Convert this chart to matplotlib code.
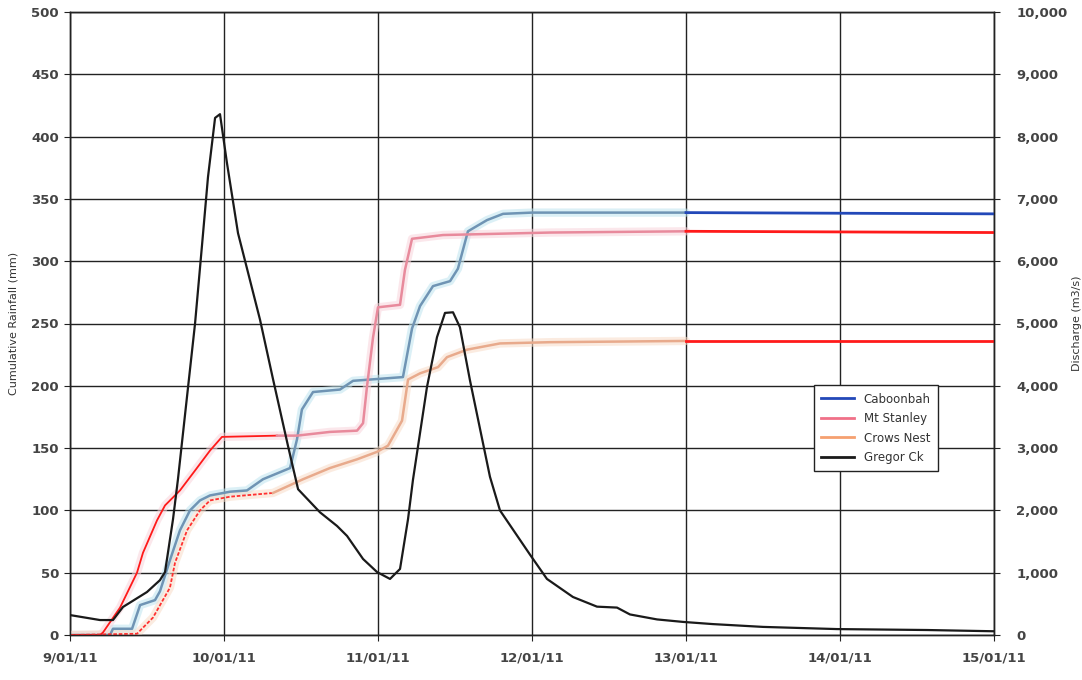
import matplotlib
matplotlib.use("Agg")
import matplotlib.pyplot as plt
from matplotlib.lines import Line2D
import numpy as np

# ---------------- data (days after 9/01/11) ----------------
x_ticklabels = ["9/01/11", "10/01/11", "11/01/11", "12/01/11", "13/01/11", "14/01/11", "15/01/11"]
rain_ticks = [0, 50, 100, 150, 200, 250, 300, 350, 400, 450, 500]
flow_ticks = [0, 1000, 2000, 3000, 4000, 5000, 6000, 7000, 8000, 9000, 10000]

caboonbah_days = [0.0, 0.260, 0.279, 0.403, 0.455, 0.552, 0.584, 0.649, 0.714, 0.779, 0.844,
                  0.909, 1.039, 1.149, 1.253, 1.429, 1.474, 1.506, 1.578, 1.753, 1.838, 2.162,
                  2.221, 2.273, 2.357, 2.468, 2.519, 2.584, 2.708, 2.812, 3.0, 4.0, 6.0]
caboonbah_mm = [0, 0, 5, 5, 24, 28, 35, 60, 84, 100, 108,
                112, 115, 116, 125, 134, 157, 181, 195, 197, 204, 207,
                246, 264, 280, 284, 294, 324, 333, 338, 339, 339, 338]

mtstanley_days = [0.0, 0.195, 0.214, 0.325, 0.435, 0.474, 0.565, 0.617, 0.714, 0.812, 0.909,
                  0.987, 1.344, 1.474, 1.688, 1.864, 1.903, 1.929, 1.968, 2.0, 2.143, 2.175,
                  2.221, 2.422, 3.117, 4.0, 6.0]
mtstanley_mm = [0, 0, 2, 22, 50, 66, 92, 104, 116, 132, 148,
                159, 160, 160, 163, 164, 170, 200, 239, 263, 265, 293,
                318, 321, 323, 324, 323]

crowsnest_days = [0.0, 0.435, 0.539, 0.649, 0.682, 0.760, 0.844, 0.909, 1.039, 1.318, 1.513,
                  1.688, 1.864, 1.994, 2.065, 2.156, 2.195, 2.273, 2.390, 2.448, 2.578, 2.792,
                  3.117, 4.0, 6.0]
crowsnest_mm = [0, 1, 14, 38, 58, 84, 100, 108, 111, 114, 125,
                134, 141, 147, 152, 172, 205, 210, 215, 223, 229, 234,
                235, 236, 236]

gregor_days = [0.000, 0.195, 0.279, 0.344, 0.500, 0.584, 0.617, 0.669, 0.701, 0.740, 0.812,
               0.857, 0.896, 0.942, 0.974, 1.019, 1.091, 1.234, 1.318, 1.416, 1.481, 1.623,
               1.734, 1.799, 1.903, 1.994, 2.078, 2.143, 2.195, 2.227, 2.318, 2.383, 2.435,
               2.487, 2.532, 2.597, 2.727, 2.792, 2.987, 3.097, 3.266, 3.422, 3.552, 3.636,
               3.812, 3.981, 4.175, 4.500, 4.981, 5.565, 6.000]
gregor_flow = [320, 240, 240, 450, 690, 880, 1010, 1860, 2500, 3380, 5000,
               6250, 7350, 8300, 8360, 7580, 6450, 5060, 4110, 3030, 2340, 1970,
               1750, 1590, 1220, 1010, 900, 1060, 1860, 2490, 3980, 4780, 5170,
               5180, 4940, 4090, 2540, 2000, 1290, 900, 610, 455, 440, 330,
               250, 210, 175, 130, 95, 80, 60]

# ---------------- figure ----------------
fig = plt.figure(figsize=(10.82, 6.8), dpi=100)
ax = fig.add_axes([70 / 1082, 45 / 680, 924 / 1082, 623 / 680])
ax2 = ax.twinx()

ax.set_xlim(0, 6)
ax.set_ylim(0, 500)
ax2.set_ylim(0, 10000)

ax.set_xticks(range(7))
ax.set_xticklabels(x_ticklabels)
ax.set_yticks(rain_ticks)
ax2.set_yticks(flow_ticks)
ax2.set_yticklabels([f"{v:,}" for v in flow_ticks])

ax.grid(True, color="#222222", linewidth=1.0)
ax.set_axisbelow(True)
for a in (ax, ax2):
    for s in a.spines.values():
        s.set_color("#222222")
        s.set_linewidth(1.0)

for lab in ax.get_xticklabels() + ax.get_yticklabels() + ax2.get_yticklabels():
    lab.set_fontsize(9.5)
    lab.set_fontweight("bold")
    lab.set_color("#444444")
ax.tick_params(axis="x", length=4, pad=8, color="#222222")
ax.tick_params(axis="y", length=4, pad=4, color="#222222")
ax2.tick_params(axis="y", length=4, pad=12, color="#222222")

ax.set_ylabel("Cumulative Rainfall (mm)", fontsize=8, color="#333333")
ax2.set_ylabel("Discharge (m3/s)", fontsize=8, color="#333333")
ax.yaxis.set_label_coords(-0.056, 0.5)
ax2.yaxis.set_label_coords(1.084, 0.5)


def seg(days, vals, lo, hi):
    d = np.asarray(days, float)
    v = np.asarray(vals, float)
    keep = (d > lo) & (d < hi)
    xs = np.concatenate([[lo], d[keep], [hi]])
    ys = np.interp(xs, d, v)
    return xs, ys


def draw_series(days, vals, early_col, mid_col, halo_col, late_col, early_end, early_ls="-"):
    # light halo (scan bleed) up to 13/01
    xs, ys = seg(days, vals, 0, 4.0)
    ax.plot(xs, ys, color=halo_col, lw=6, alpha=0.55, solid_capstyle="round", zorder=3)
    if early_end > 0:
        xs, ys = seg(days, vals, 0, early_end)
        ax.plot(xs, ys, color=early_col, lw=1.3, ls=early_ls, zorder=4)
    xs, ys = seg(days, vals, early_end, 4.0)
    ax.plot(xs, ys, color=mid_col, lw=1.8, zorder=4)
    xs, ys = seg(days, vals, 4.0, 6.0)
    ax.plot(xs, ys, color=late_col, lw=2.0, zorder=4)


draw_series(caboonbah_days, caboonbah_mm, "#6f94b4", "#6f94b4", "#bfe4f0", "#2348b8", 0)
draw_series(mtstanley_days, mtstanley_mm, "#ff1a1a", "#e88a9c", "#f8d4dc", "#ff1a1a", 1.344)
draw_series(crowsnest_days, crowsnest_mm, "#ff3030", "#e8aa8c", "#f8dcc8", "#ff1a1a", 1.318,
            early_ls=(0, (2, 1)))

ax2.plot(gregor_days, gregor_flow, color="#1a1a1a", lw=1.6, zorder=5)

handles = [Line2D([], [], color="#2348b8", lw=2),
           Line2D([], [], color="#f07088", lw=2),
           Line2D([], [], color="#f5a070", lw=2),
           Line2D([], [], color="#1a1a1a", lw=2)]
leg = ax2.legend(handles, ["Caboonbah", "Mt Stanley", "Crows Nest", "Gregor Ck"],
                 loc="upper left", bbox_to_anchor=(0.799, 0.41), fontsize=8.5,
                 frameon=True, fancybox=False, edgecolor="#222222", framealpha=1,
                 handlelength=2.8, borderpad=0.6, labelspacing=0.55)
leg.get_frame().set_linewidth(1.0)
for t in leg.get_texts():
    t.set_color("#333333")

fig.savefig("out.png", dpi=100)
